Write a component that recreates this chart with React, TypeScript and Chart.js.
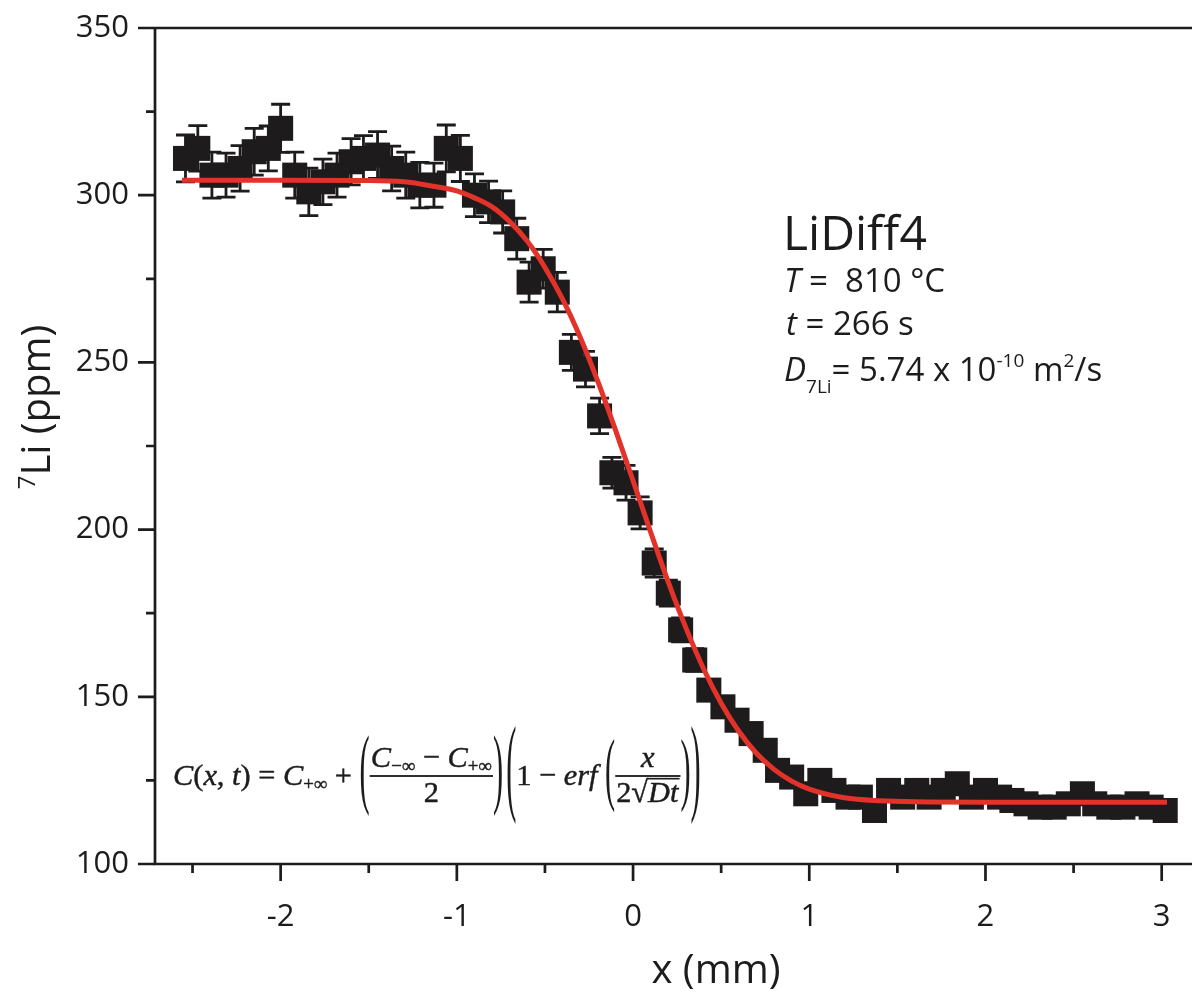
import React, { useEffect, useRef } from 'react';
import { Chart, registerables } from 'chart.js';

Chart.register(...registerables);

// ---------- data ----------
const positionsMm = [
  -2.54, -2.47, -2.39, -2.31, -2.23, -2.15, -2.07, -2.0, -1.92, -1.84,
  -1.76, -1.68, -1.6, -1.53, -1.45, -1.37, -1.29, -1.21, -1.13, -1.06,
  -0.98, -0.9, -0.82, -0.74, -0.66, -0.59, -0.51, -0.43, -0.35, -0.27,
  -0.19, -0.12, -0.04, 0.04, 0.12, 0.2, 0.27, 0.35, 0.43, 0.51,
  0.59, 0.67, 0.75, 0.82, 0.9, 0.98, 1.06, 1.14, 1.22, 1.29,
  1.37, 1.45, 1.53, 1.61, 1.68, 1.76, 1.84, 1.92, 2.0, 2.08,
  2.15, 2.23, 2.31, 2.39, 2.47, 2.55, 2.62, 2.7, 2.78, 2.86,
  2.94, 3.02,
];

const li7Ppm = [
  311, 314, 306, 306, 308, 313, 314, 320, 306, 301,
  304, 306, 310, 311, 312, 308, 306, 303, 303, 314,
  311, 300, 298, 295, 287, 274, 278, 271, 253, 248,
  234, 217, 214, 205, 190, 181, 170, 161, 152, 147,
  143, 139, 134, 128, 126, 121, 125, 122, 120, 120,
  116, 122, 120, 122, 120, 122, 124, 120, 122, 120,
  119, 118, 117, 117, 118, 121, 118, 117, 117, 118,
  117, 116,
];

const li7Err = [
  7.0, 6.8, 6.9, 6.6, 6.8, 7.0, 6.7, 7.2, 6.9, 7.1,
  6.8, 6.6, 6.9, 6.8, 7.0, 6.7, 6.9, 6.8, 6.6, 7.0,
  6.9, 6.4, 6.2, 6.3, 6.1, 6.0, 5.8, 5.9, 5.4, 5.3,
  5.3, 4.6, 5.2, 4.8, 4.2, 3.9, 3.6, 3.4, 3.1, 3.0,
  2.9, 2.8, 2.7, 2.6, 2.6, 2.5, 2.5, 2.4, 2.5, 2.4,
  2.4, 2.5, 2.4, 2.5, 2.4, 2.5, 2.5, 2.4, 2.5, 2.4,
  2.4, 2.4, 2.4, 2.4, 2.4, 2.5, 2.4, 2.4, 2.4, 2.4,
  2.4, 2.4,
];

const fitXmm = [
  -2.56, -2.0, -1.5, -1.3, -1.2, -1.1, -1.0, -0.9, -0.8, -0.7,
  -0.6, -0.5, -0.4, -0.3, -0.2, -0.1, 0.0, 0.1, 0.2, 0.3,
  0.4, 0.5, 0.6, 0.7, 0.8, 0.9, 1.0, 1.2, 1.4, 1.6,
  2.0, 2.5, 3.03,
];

const fitPpm = [
  304.5, 304.5, 304.4, 304.0, 303.3, 302.4, 301.3, 299.2, 296.5, 292.1,
  286.2, 278.4, 268.9, 257.5, 244.3, 229.8, 214.6, 199.2, 184.3, 170.6,
  158.4, 148.1, 139.7, 133.1, 128.3, 124.8, 122.4, 119.8, 118.9, 118.6,
  118.5, 118.5, 118.5,
];

const xTickValues = [-2.5, -2, -1.5, -1, -0.5, 0, 0.5, 1, 1.5, 2, 2.5, 3];
const xTickLabels = ['', '-2', '', '-1', '', '0', '', '1', '', '2', '', '3'];
const yTickValues = [100, 125, 150, 175, 200, 225, 250, 275, 300, 325, 350];
const yTickLabels = ['100', '', '150', '', '200', '', '250', '', '300', '', '350'];

const xTitle = 'x (mm)';
const yTitleSup = '7';
const yTitleMain = 'Li (ppm)';
const sampleName = 'LiDiff4';

// ---------- styling ----------
const INK = '#1d1b1c';
const RED = '#e2322a';
const SANS = '"Open Sans", "Noto Sans", sans-serif';
const SERIF = '"Liberation Serif", "DejaVu Serif", serif';

type Run = { t: string; it?: boolean; sc?: number; dy?: number };

function serifFont(r: Run, s: number) {
  return `${r.it ? 'italic ' : ''}${(s * (r.sc || 1)).toFixed(2)}px ${SERIF}`;
}
function runsWidth(ctx: CanvasRenderingContext2D, runs: Run[], s: number) {
  let w = 0;
  for (const r of runs) {
    ctx.font = serifFont(r, s);
    w += ctx.measureText(r.t).width;
  }
  return w;
}
function drawRuns(ctx: CanvasRenderingContext2D, runs: Run[], x: number, base: number, s: number, draw: boolean) {
  for (const r of runs) {
    ctx.font = serifFont(r, s);
    if (draw) {
      ctx.fillText(r.t, x, base + (r.dy || 0) * s);
      ctx.strokeText(r.t, x, base + (r.dy || 0) * s);
    }
    x += ctx.measureText(r.t).width;
  }
  return x;
}
function drawParen(ctx: CanvasRenderingContext2D, ch: string, x: number, axis: number, s: number, targetH: number, draw: boolean) {
  ctx.font = `${s.toFixed(2)}px ${SERIF}`;
  const m = ctx.measureText(ch);
  const h = m.actualBoundingBoxAscent + m.actualBoundingBoxDescent;
  const k = targetH / h;
  const mid = (m.actualBoundingBoxDescent - m.actualBoundingBoxAscent) / 2;
  if (draw) {
    ctx.save();
    ctx.translate(x, axis);
    ctx.scale(1, k);
    ctx.fillText(ch, 0, -mid);
    ctx.restore();
  }
  return x + m.width;
}

function layoutFormula(ctx: CanvasRenderingContext2D, x0: number, axis: number, s: number, draw: boolean) {
  const base = axis + 0.3 * s;
  const subP: Run = { t: '+∞', sc: 0.62, dy: 0.17 };
  const subM: Run = { t: '−∞', sc: 0.62, dy: 0.17 };
  let x = x0;
  x = drawRuns(ctx, [
    { t: 'C', it: true }, { t: '(' }, { t: 'x', it: true }, { t: ', ' }, { t: 't', it: true }, { t: ')' },
    { t: ' = ' }, { t: 'C', it: true }, subP, { t: ' + ' },
  ], x, base, s, draw);
  x = drawParen(ctx, '(', x, axis, s, 2.7 * s, draw);
  // fraction 1
  {
    const num: Run[] = [{ t: 'C', it: true }, subM, { t: ' − ' }, { t: 'C', it: true }, subP];
    const den: Run[] = [{ t: '2' }];
    const wn = runsWidth(ctx, num, s);
    const wd = runsWidth(ctx, den, s);
    const w = Math.max(wn, wd) + 0.08 * s;
    if (draw) {
      ctx.fillRect(x, axis - 0.03 * s, w, Math.max(1.3, 0.06 * s));
    }
    drawRuns(ctx, num, x + (w - wn) / 2, axis - 0.3 * s, s, draw);
    drawRuns(ctx, den, x + (w - wd) / 2, axis + 0.85 * s, s, draw);
    x += w;
  }
  x = drawParen(ctx, ')', x, axis, s, 2.7 * s, draw);
  x += 0.1 * s;
  x = drawParen(ctx, '(', x, axis, s, 3.3 * s, draw);
  x = drawRuns(ctx, [{ t: '1 − ' }, { t: 'erf', it: true }, { t: ' ' }], x, base, s, draw);
  x = drawParen(ctx, '(', x, axis, s, 2.45 * s, draw);
  // fraction 2
  {
    const num: Run[] = [{ t: 'x', it: true }];
    const denA: Run[] = [{ t: '2' }, { t: '√' }];
    const denB: Run[] = [{ t: 'Dt', it: true }];
    const wn = runsWidth(ctx, num, s);
    const wa = runsWidth(ctx, denA, s);
    const wb = runsWidth(ctx, denB, s) + 0.04 * s;
    const wd = wa + wb;
    const w = Math.max(wn, wd) + 0.06 * s;
    if (draw) ctx.fillRect(x, axis - 0.03 * s, w, Math.max(1.3, 0.06 * s));
    drawRuns(ctx, num, x + (w - wn) / 2, axis - 0.3 * s, s, draw);
    const dx = x + (w - wd) / 2;
    const dBase = axis + 0.85 * s;
    drawRuns(ctx, denA, dx, dBase, s, draw);
    drawRuns(ctx, denB, dx + wa, dBase, s, draw);
    if (draw) {
      ctx.font = serifFont({ t: '√' }, s);
      const m = ctx.measureText('√');
      const topY = dBase - m.actualBoundingBoxAscent;
      ctx.fillRect(dx + wa - 0.02 * s, topY, wb + 0.02 * s, Math.max(1.2, 0.055 * s));
    }
    x += w;
  }
  x = drawParen(ctx, ')', x, axis, s, 2.45 * s, draw);
  x = drawParen(ctx, ')', x, axis, s, 3.3 * s, draw);
  return x - x0;
}

type SRun = { t: string; it?: boolean; size: number; dy?: number };
function drawSansRuns(ctx: CanvasRenderingContext2D, runs: SRun[], x: number, base: number) {
  for (const r of runs) {
    ctx.font = `${r.it ? 'italic ' : ''}${r.size}px ${SANS}`;
    ctx.fillText(r.t, x, base + (r.dy || 0));
    x += ctx.measureText(r.t).width;
  }
  return x;
}

const errorBarPlugin = {
  id: 'errorBars',
  beforeDatasetsDraw(chart: any) {
    const { ctx, scales } = chart;
    const xs = scales.x;
    const ys = scales.y;
    ctx.save();
    ctx.strokeStyle = INK;
    ctx.lineWidth = 2.8;
    positionsMm.forEach((xv, i) => {
      const px = xs.getPixelForValue(xv);
      const top = ys.getPixelForValue(li7Ppm[i] + li7Err[i]);
      const bot = ys.getPixelForValue(li7Ppm[i] - li7Err[i]);
      ctx.beginPath();
      ctx.moveTo(px, top);
      ctx.lineTo(px, bot);
      ctx.moveTo(px - 9.5, top);
      ctx.lineTo(px + 9.5, top);
      ctx.moveTo(px - 9.5, bot);
      ctx.lineTo(px + 9.5, bot);
      ctx.stroke();
    });
    ctx.restore();
  },
};

const decorPlugin = {
  id: 'decor',
  afterDraw(chart: any) {
    const { ctx, chartArea: a, scales } = chart;
    const xs = scales.x;
    const ys = scales.y;
    ctx.save();
    ctx.strokeStyle = INK;
    ctx.fillStyle = INK;
    ctx.lineWidth = 2.7;
    ctx.lineCap = 'butt';
    // frame lines
    ctx.beginPath();
    ctx.moveTo(a.left, a.top);
    ctx.lineTo(a.right, a.top);
    ctx.moveTo(a.left, a.top);
    ctx.lineTo(a.left, a.bottom);
    ctx.moveTo(a.left - 1.3, a.bottom);
    ctx.lineTo(a.right, a.bottom);
    ctx.stroke();
    // ticks
    ctx.beginPath();
    xTickValues.forEach((v, i) => {
      const px = xs.getPixelForValue(v);
      const len = xTickLabels[i] ? 17 : 9;
      ctx.moveTo(px, a.bottom);
      ctx.lineTo(px, a.bottom + len);
    });
    yTickValues.forEach((v, i) => {
      const py = ys.getPixelForValue(v);
      const len = yTickLabels[i] ? 17 : 9;
      ctx.moveTo(a.left, py);
      ctx.lineTo(a.left - len, py);
    });
    ctx.stroke();

    // axis titles
    ctx.textBaseline = 'alphabetic';
    ctx.textAlign = 'left';
    ctx.font = `40px ${SANS}`;
    const wx = ctx.measureText(xTitle).width;
    ctx.fillText(xTitle, 716 - wx / 2, 983);

    ctx.save();
    ctx.translate(50, 407);
    ctx.rotate(-Math.PI / 2);
    ctx.font = `24px ${SANS}`;
    const w7 = ctx.measureText(yTitleSup).width;
    ctx.font = `40px ${SANS}`;
    const wl = ctx.measureText(yTitleMain).width;
    const start = -(w7 + wl) / 2;
    drawSansRuns(ctx, [
      { t: yTitleSup, size: 24, dy: -15 },
      { t: yTitleMain, size: 40 },
    ], start, 0);
    ctx.restore();

    // sample annotation
    ctx.font = `48px ${SANS}`;
    ctx.fillText(sampleName, 783, 250);
    drawSansRuns(ctx, [{ t: 'T', it: true, size: 33 }, { t: ' =  810 °C', size: 33 }], 784, 292);
    drawSansRuns(ctx, [{ t: 't', it: true, size: 33 }, { t: ' = 266 s', size: 33 }], 786, 335);
    drawSansRuns(ctx, [
      { t: 'D', it: true, size: 33 },
      { t: '7Li', size: 19, dy: 12 },
      { t: '= 5.74 x 10', size: 33 },
      { t: '-10', size: 19, dy: -14 },
      { t: ' m', size: 33 },
      { t: '2', size: 19, dy: -14 },
      { t: '/s', size: 33 },
    ], 784, 381);

    // formula
    ctx.lineWidth = 0.45;
    const trial = layoutFormula(ctx, 0, 0, 22, false);
    const s = (22 * 528) / trial;
    layoutFormula(ctx, 173, 776, s, true);
    ctx.restore();
  },
};

export default function App() {
  const canvasRef = useRef<HTMLCanvasElement | null>(null);

  useEffect(() => {
    document.body.style.margin = '0';
    const canvas = canvasRef.current;
    if (!canvas) return;
    const chart = new Chart(canvas, {
      type: 'scatter',
      data: {
        datasets: [
          {
            type: 'line',
            label: 'erf fit',
            data: fitXmm.map((x, i) => ({ x, y: fitPpm[i] })),
            borderColor: RED,
            borderWidth: 5,
            pointRadius: 0,
            fill: false,
            cubicInterpolationMode: 'monotone',
            order: 0,
          } as any,
          {
            type: 'scatter',
            label: '7Li',
            data: positionsMm.map((x, i) => ({ x, y: li7Ppm[i] })),
            pointStyle: 'rect',
            pointRadius: 17.7,
            pointHoverRadius: 17.7,
            backgroundColor: INK,
            borderWidth: 0,
            order: 1,
          } as any,
        ],
      },
      options: {
        animation: false,
        responsive: false,
        devicePixelRatio: 1,
        layout: { autoPadding: false, padding: { top: 28, left: 0, right: 0, bottom: 0 } },
        plugins: { legend: { display: false }, tooltip: { enabled: false } },
        scales: {
          x: {
            type: 'linear',
            min: -2.713,
            max: 3.172,
            afterBuildTicks: (scale: any) => {
              scale.ticks = xTickValues.map((v) => ({ value: v }));
            },
            afterFit: (scale: any) => {
              scale.height = 128;
              scale.paddingLeft = 0;
              scale.paddingRight = 0;
            },
            ticks: {
              autoSkip: false,
              maxRotation: 0,
              minRotation: 0,
              padding: 35,
              color: INK,
              font: { family: SANS, size: 31 },
              callback: (v: any) => {
                const i = xTickValues.indexOf(Number(v));
                return i >= 0 ? xTickLabels[i] : '';
              },
            },
            grid: { display: false, drawTicks: false },
            border: { display: false },
          },
          y: {
            type: 'linear',
            min: 100,
            max: 350,
            afterBuildTicks: (scale: any) => {
              scale.ticks = yTickValues.map((v) => ({ value: v }));
            },
            afterFit: (scale: any) => {
              scale.width = 155;
              scale.paddingTop = 0;
              scale.paddingBottom = 0;
            },
            ticks: {
              autoSkip: false,
              padding: 26,
              color: INK,
              font: { family: SANS, size: 31 },
              callback: (v: any) => {
                const i = yTickValues.indexOf(Number(v));
                return i >= 0 ? yTickLabels[i] : '';
              },
            },
            grid: { display: false, drawTicks: false },
            border: { display: false },
          },
        },
      } as any,
      plugins: [errorBarPlugin, decorPlugin],
    });
    return () => chart.destroy();
  }, []);

  return (
    <div style={{ width: 1192, height: 992, background: '#fff' }}>
      <canvas ref={canvasRef} width={1192} height={992} style={{ display: 'block' }} />
    </div>
  );
}
